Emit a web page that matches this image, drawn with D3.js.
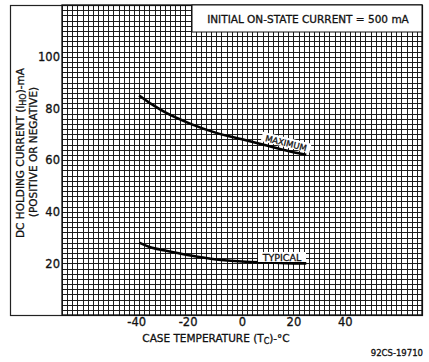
<!DOCTYPE html>
<html>
<head>
<meta charset="utf-8">
<script src="https://cdn.jsdelivr.net/npm/d3@7"></script>
<style>
  html, body { margin: 0; padding: 0; background: #fff; }
  svg { display: block; }
  text { font-family: "DejaVu Sans", sans-serif; fill: #111; stroke: #111; stroke-width: 0.3; }
</style>
</head>
<body>
<svg id="chart" width="429" height="362"></svg>
<script>
// ---- data ----
const maxTemp = [-40, -35, -30, -20, -10, 0, 10, 20, 25];
const maxCurrent = [85, 81.5, 78.5, 74, 70.5, 68, 65.5, 63, 62];
const typTemp = [-40, -35, -30, -20, -10, 0, 10, 20, 25];
const typCurrent = [28, 26, 25, 23, 21.5, 20.7, 20.3, 20, 20];
const xTicks = [-40, -20, 0, 20, 40];
const yTicks = [20, 40, 60, 80, 100];
const xDomain = [-70, 70];
const yDomain = [0, 120];

const svg = d3.select("#chart");
const L = 62, R = 422, T = 5, B = 315;
const x = d3.scaleLinear().domain(xDomain).range([L, R]);
const y = d3.scaleLinear().domain(yDomain).range([B, T]);

// outer frame
svg.append("rect").attr("x", 10.5).attr("y", 5.5).attr("width", R - 10).attr("height", B - 5)
  .attr("fill", "none").attr("stroke", "#222").attr("stroke-width", 1.2);

// grid (minor every 2 units)
const gx = svg.append("g").attr("transform", `translate(0,${B})`)
  .call(d3.axisBottom(x).tickValues(d3.range(-70, 71, 2)).tickSize(-(B - T)).tickFormat(""));
gx.select(".domain").remove();
gx.selectAll(".tick line").attr("stroke", "#111").attr("stroke-width", 0.95)
  .attr("shape-rendering", "crispEdges");
const gy = svg.append("g").attr("transform", `translate(${L},0)`)
  .call(d3.axisLeft(y).tickValues(d3.range(0, 121, 2)).tickSize(-(R - L)).tickFormat(""));
gy.select(".domain").remove();
gy.selectAll(".tick line").attr("stroke", "#111").attr("stroke-width", 0.95)
  .attr("shape-rendering", "crispEdges");

// plot border
svg.append("rect").attr("x", L).attr("y", T).attr("width", R - L).attr("height", B - T)
  .attr("fill", "none").attr("stroke", "#111").attr("stroke-width", 1.3);

// legend box
svg.append("rect").attr("x", 192).attr("y", 5).attr("width", R - 192).attr("height", 27)
  .attr("fill", "#fff").attr("stroke", "#111").attr("stroke-width", 1);
svg.append("text").attr("x", 308).attr("y", 23).attr("text-anchor", "middle")
  .attr("font-size", 10.5).text("INITIAL ON-STATE CURRENT = 500 mA");

// axes labels
const ax = svg.append("g").attr("transform", `translate(0,${B})`)
  .call(d3.axisBottom(x).tickValues(xTicks).tickSize(0).tickPadding(3).tickFormat(d => String(d)));
ax.select(".domain").remove();
ax.selectAll("text").attr("font-size", 11.5).attr("font-family", "DejaVu Sans").attr("fill", "#111").attr("dx", d => d < 0 ? -3 : 0);
const ay = svg.append("g").attr("transform", `translate(${L},0)`)
  .call(d3.axisLeft(y).tickValues(yTicks).tickSize(0).tickPadding(2));
ay.select(".domain").remove();
ay.selectAll("text").attr("font-size", 11.5).attr("font-family", "DejaVu Sans").attr("fill", "#111");

// curves
const line = d3.line().x(d => x(d[0])).y(d => y(d[1])).curve(d3.curveMonotoneX);
svg.append("path").datum(d3.zip(maxTemp, maxCurrent)).attr("d", line)
  .attr("fill", "none").attr("stroke", "#000").attr("stroke-width", 2.6);
svg.append("path").datum(d3.zip(typTemp, typCurrent)).attr("d", line)
  .attr("fill", "none").attr("stroke", "#000").attr("stroke-width", 2.6);

// curve labels
const mx = 285, my = 147;
const mg = svg.append("g").attr("transform", `translate(${mx},${my}) rotate(14)`);
mg.append("rect").attr("x", -25).attr("y", -9.5).attr("width", 50).attr("height", 9.5).attr("fill", "#fff");
mg.append("text").attr("x", 0).attr("y", -1).attr("text-anchor", "middle").attr("font-size", 8.5).text("MAXIMUM");

const tg = svg.append("g").attr("transform", `translate(282,261)`);
tg.append("rect").attr("x", -24).attr("y", -9).attr("width", 48).attr("height", 10).attr("fill", "#fff");
tg.append("text").attr("x", 0).attr("y", 0).attr("text-anchor", "middle").attr("font-size", 9.5).text("TYPICAL");

// axis titles
const xt = svg.append("text").attr("x", 216).attr("y", 342).attr("text-anchor", "middle").attr("font-size", 10.5);
xt.append("tspan").text("CASE TEMPERATURE (T");
xt.append("tspan").attr("font-size", 8).attr("dy", 2).text("C");
xt.append("tspan").attr("dy", -2).text(")-°C");

const yt = svg.append("text").attr("transform", "translate(24,153) rotate(-90)").attr("text-anchor", "middle").attr("font-size", 10.5);
yt.append("tspan").text("DC HOLDING CURRENT (I");
yt.append("tspan").attr("font-size", 8).attr("dy", 2).text("HO");
yt.append("tspan").attr("dy", -2).text(")-mA");
svg.append("text").attr("transform", "translate(37,152) rotate(-90)").attr("text-anchor", "middle")
  .attr("font-size", 10.5).text("(POSITIVE OR NEGATIVE)");

svg.append("text").attr("x", 423).attr("y", 356).attr("text-anchor", "end").attr("font-size", 8.5).text("92CS-19710");
</script>
</body>
</html>
